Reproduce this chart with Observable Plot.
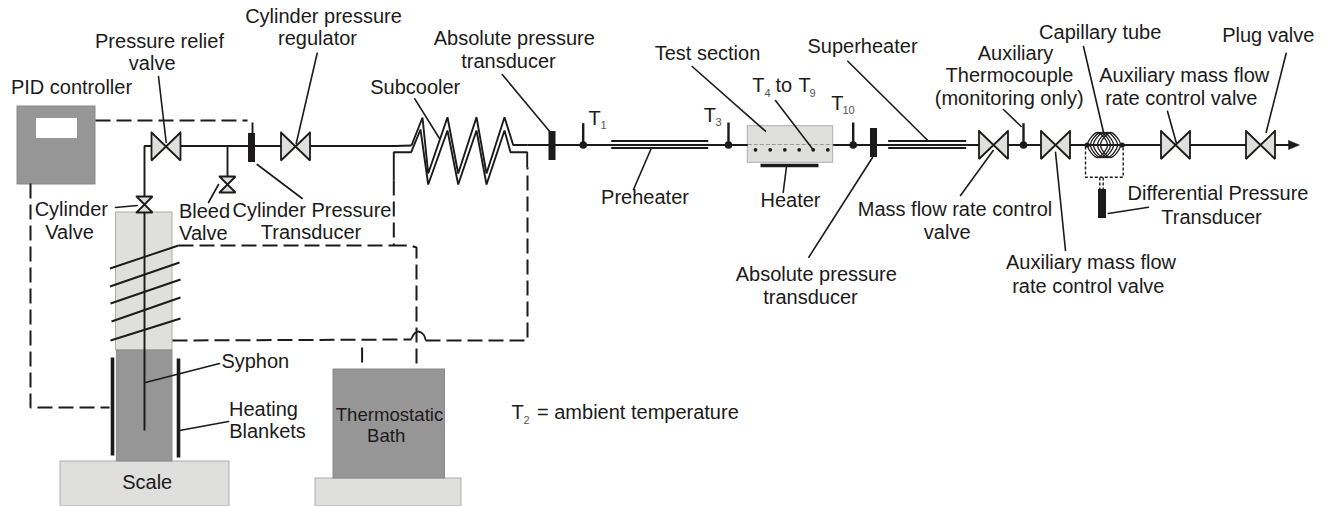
<!DOCTYPE html>
<html>
<head>
<meta charset="utf-8">
<script src="https://cdn.jsdelivr.net/npm/d3@7"></script>
<script src="https://cdn.jsdelivr.net/npm/@observablehq/plot@0.6"></script>
<style>
html,body{margin:0;padding:0;background:#fff;overflow:hidden}
svg{display:block}
</style>
</head>
<body>
<div id="chart"></div>
<script>
// Boxes: [x1, y1, x2, y2]
const darkBoxes = [[17,106,95,184],[116.4,350,172,461],[333,369,444.5,478]];
const lightBoxes = [[115.5,212,172,350],[60,461,229,506],[315,478,461,506],[747.3,125.7,832.7,162.3]];
const whiteBoxes = [[36,118,77,138]];
const transducers = [[248,133,255,162],[548.5,131,555.5,160],[870,128,877,157],[1098,189,1106,218]];

// Pipework, solid
const pipes = [
  [[144,430],[144,145.5],[395,145.5],[411,145]],
  [[526.7,144.5],[747.3,144.5]],
  [[832.7,144.5],[1292,144.5]],
  [[227,145.5],[227,177]],
  [[610.7,140.5],[707.7,140.5]],[[610.7,147.5],[707.7,147.5]],
  [[887.7,140.5],[965.7,140.5]],[[887.7,147.5],[965.7,147.5]],
  [[252,122],[252,133]],
  [[411,145],[422,117],[427.7,173],[447,116.7],[457.7,173],[476,116.7],[486,173],[504,116.7],[512.7,144.5],[526.7,144.5]],
  [[393.3,180],[393.3,151.7],[410.7,151.7],[420,129],[427.7,184],[447,130],[457.7,184],[476,130],[486,184],[504,130],[510,151.7],[526.7,151.7],[526.7,166.7]],
  [[109.5,268],[178,245]],[[109.5,286],[179,262]],[[110,303],[180,279]],[[111,321],[180,297]],[[110,340],[180,318]]
];
// Small hop where the two wires cross
const hop = [[[411,338],[414,333],[418,331],[423,334],[425,339]]];
// Capillary coil loops: left, top, right, bottom
const coilLoops = [
  [[1087,144.5],[1097,132],[1107,144.5],[1097,157]],
  [[1090,144.5],[1100,132],[1110,144.5],[1100,157]],
  [[1093,144.5],[1103,132],[1113,144.5],[1103,157]],
  [[1097,144.5],[1107,132],[1117,144.5],[1107,157]],
  [[1100,144.5],[1110,132],[1120,144.5],[1110,157]]
];
// Leader lines from labels
const leaders = [
  [[158,76],[165.7,142]],[[316.7,52.7],[295.7,143]],[[256.7,164],[301.7,198]],
  [[115,207],[136.7,205]],[[218,184],[208,202]],[[414.3,98.3],[439,138]],
  [[501.7,74],[549,130.7]],[[650.7,148],[633,189]],[[691.7,66],[765,130.7]],
  [[775,100],[812.7,149.3]],[[847.3,60.7],[927.3,140]],[[872,157],[808.3,256.7]],
  [[992.7,150],[960,195]],[[1003,109],[1020.7,126]],[[1055,151.7],[1065,250]],
  [[1083,46],[1103,131.7]],[[1167,110.7],[1176,143]],[[1285.7,52.7],[1265.7,131.7]],
  [[1107.7,213],[1148,206.7]],[[145,382],[219,363]],[[179,430],[228,421]],[[786,166],[782.7,192]]
];
const stems = [[582.7,122.7,144.5],[728,122,144.5],[852.7,122,144.5],[1023,122.7,144.5]];
const thickBars = [
  [[112,357],[112,455]],[[178,358],[178,457]],[[760,165],[818,165]]
];
// Wiring, dashed
const dashed = [
  [[95,120],[247,120]],
  [[30,183],[30,407],[109,407]],
  [[393.3,180],[393.3,245],[410,245],[416,247],[416,369]],
  [[178,245],[393.3,245]],
  [[172,340],[411,339]],
  [[425,340],[527,340],[527,166.7]],
  [[361.6,347],[361.6,364]]
];
const dotted = [
  [[1085,146],[1085,176.7],[1122.7,176.7],[1122.7,146]],
  [[1099.3,177],[1099.3,189]],[[1102.7,177],[1102.7,189]]
];
const testInner = [[[747.3,144],[832.7,144]]];

// Valve centres
const bigValves = [[165.5,146],[295,146],[993,144.5],[1055,144.5],[1175,144.5],[1260,144.5]];
const smallValves = [[144,204],[227,184]];
const arrowHead = [[[1288,140],[1299,144.5],[1288,149],[1288,140]]];

// Dots
const sensorDots = [[582.7,144.5],[728,144.5],[852.7,144.5],[1023,144.5]];
const testDots = [[755,149.3],[769.7,149.3],[784.3,149.3],[798.7,149.3],[812.7,149.3],[827.3,149.3]];
const coilNodes = [[1086.7,144.5],[1121.7,144.5]];

// Labels: [text, centre x, centre y]
const labels = [
  ["Cylinder pressure",323,16],["regulator",317,38],
  ["Pressure relief",159,40.7],["valve",151.7,63],
  ["PID controller",71,87],["Subcooler",414.7,87],
  ["Absolute pressure",513.8,38],["transducer",508,61],
  ["Preheater",644.5,197],["Test section",707,53],
  ["Superheater",862,45.7],["Heater",790,200],
  ["Mass flow rate control",954.5,209],["valve",946.7,231.7],
  ["Absolute pressure",815.8,274],["transducer",810,296.7],
  ["Auxiliary",1015,52.7],["Thermocouple",1009,75],["(monitoring only)",1008.7,98],
  ["Capillary tube",1099.7,31.7],["Plug valve",1267.8,35],
  ["Auxiliary mass flow",1183.7,75],["rate control valve",1180.8,98],
  ["Differential Pressure",1217.5,193],["Transducer",1211,216.7],
  ["Auxiliary mass flow",1090.5,262],["rate control valve",1087.8,285.7],
  ["Cylinder",70.8,209],["Valve",69,231.7],
  ["Bleed",204,210.7],["Valve",202.8,233],
  ["Cylinder Pressure",311.5,210],["Transducer",310.5,232],
  ["Syphon",254.8,361],["Heating",263,409.3],["Blankets",267,431],
  ["Scale",146.7,482]
];
const bathLabels = [["Thermostatic",389,415],["Bath",385.7,436]];
// Temperature labels: [text, left x, centre y]
const tempLabels = [
  ["T",588,118],["T",751.7,85],["to",775,85],["T",798,85],["T",703.3,115],["T",830.7,102.7],
  ["T",511,412],["= ambient temperature",536.5,412]
];
const tempSubs = [
  ["1",600,125],["4",764,92.7],["9",809,92.7],["3",715,121.7],["10",842,110],["2",523,420]
];

const toRows = (lines) => lines.flatMap((pts, id) => pts.map(([x, y]) => ({id, x, y})));
const box = (rows, opts) => Plot.rect(rows, {x1: d => d[0], y1: d => d[1], x2: d => d[2], y2: d => d[3], ...opts});
const path = (lines, opts) => Plot.line(toRows(lines), {x: "x", y: "y", z: "id", curve: "linear", ...opts});
const dot = (rows, opts) => Plot.dot(rows, {x: d => d[0], y: d => d[1], ...opts});
const bowtie = ([cx, cy], w, h, dir) => dir === "h"
  ? [[[cx-w,cy-h],[cx,cy],[cx-w,cy+h],[cx-w,cy-h]], [[cx+w,cy-h],[cx,cy],[cx+w,cy+h],[cx+w,cy-h]]]
  : [[[cx-w,cy-h],[cx,cy],[cx+w,cy-h],[cx-w,cy-h]], [[cx-w,cy+h],[cx,cy],[cx+w,cy+h],[cx-w,cy+h]]];
const valvePolys = [
  ...bigValves.flatMap(c => bowtie(c, 14.5, 14, "h")),
  ...smallValves.flatMap(c => bowtie(c, 8, 8, "v"))
];
const ink = "#1c1a1a";
const font = "'Liberation Sans', Arial, sans-serif";

const chart = Plot.plot({
  width: 1326, height: 506,
  marginTop: 0, marginRight: 0, marginBottom: 0, marginLeft: 0,
  x: {type: "linear", domain: [0, 1326], range: [0, 1326], axis: null},
  y: {type: "linear", domain: [0, 506], range: [0, 506], axis: null},
  style: {background: "#fff", fontFamily: font},
  marks: [
    box(lightBoxes, {fill: "#dfdfde", stroke: "#adadad", strokeWidth: 1}),
    box(darkBoxes, {fill: "#969696", stroke: "#8a8a8a", strokeWidth: 1}),
    box(whiteBoxes, {fill: "#fff"}),
    path(testInner, {stroke: "#9a9a9a", strokeWidth: 1, strokeDasharray: "4,2", strokeLinecap: "butt"}),
    path(dashed, {stroke: ink, strokeWidth: 2, strokeDasharray: "15,6", strokeLinecap: "butt", strokeLinejoin: "miter"}),
    path(dotted, {stroke: ink, strokeWidth: 1.4, strokeDasharray: "3,2", strokeLinecap: "butt"}),
    path(pipes, {stroke: ink, strokeWidth: 1.9, strokeLinejoin: "miter", strokeLinecap: "butt"}),
    path(hop, {stroke: ink, strokeWidth: 1.8, curve: "catmull-rom"}),
    path(leaders, {stroke: ink, strokeWidth: 1.6}),
    path(thickBars, {stroke: ink, strokeWidth: 3.6, strokeLinecap: "butt"}),
    Plot.link(stems, {x1: d => d[0], x2: d => d[0], y1: d => d[1], y2: d => d[2], stroke: ink, strokeWidth: 2.4}),
    box(transducers, {fill: ink}),
    path(valvePolys, {fill: "#dfdfde", stroke: ink, strokeWidth: 1.8, strokeLinejoin: "miter"}),
    path(arrowHead, {fill: ink, stroke: ink, strokeWidth: 0.5}),
    path(coilLoops, {stroke: ink, strokeWidth: 1.3, curve: "catmull-rom-closed", fill: "none"}),
    dot(sensorDots, {r: 3.8, fill: ink}),
    dot(testDots, {r: 1.9, fill: ink}),
    dot(coilNodes, {r: 2.6, fill: ink}),
    Plot.text(labels, {x: d => d[1], y: d => d[2], text: d => d[0], fontSize: 20, fill: ink, textAnchor: "middle", lineAnchor: "middle"}),
    Plot.text(bathLabels, {x: d => d[1], y: d => d[2], text: d => d[0], fontSize: 18.6, fill: ink, textAnchor: "middle", lineAnchor: "middle"}),
    Plot.text(tempLabels, {x: d => d[1], y: d => d[2], text: d => d[0], fontSize: 20, fill: ink, textAnchor: "start", lineAnchor: "middle"}),
    Plot.text(tempSubs, {x: d => d[1], y: d => d[2], text: d => d[0], fontSize: 11, fill: "#555", textAnchor: "start", lineAnchor: "middle"})
  ]
});
document.getElementById("chart").append(chart);
</script>
</body>
</html>
